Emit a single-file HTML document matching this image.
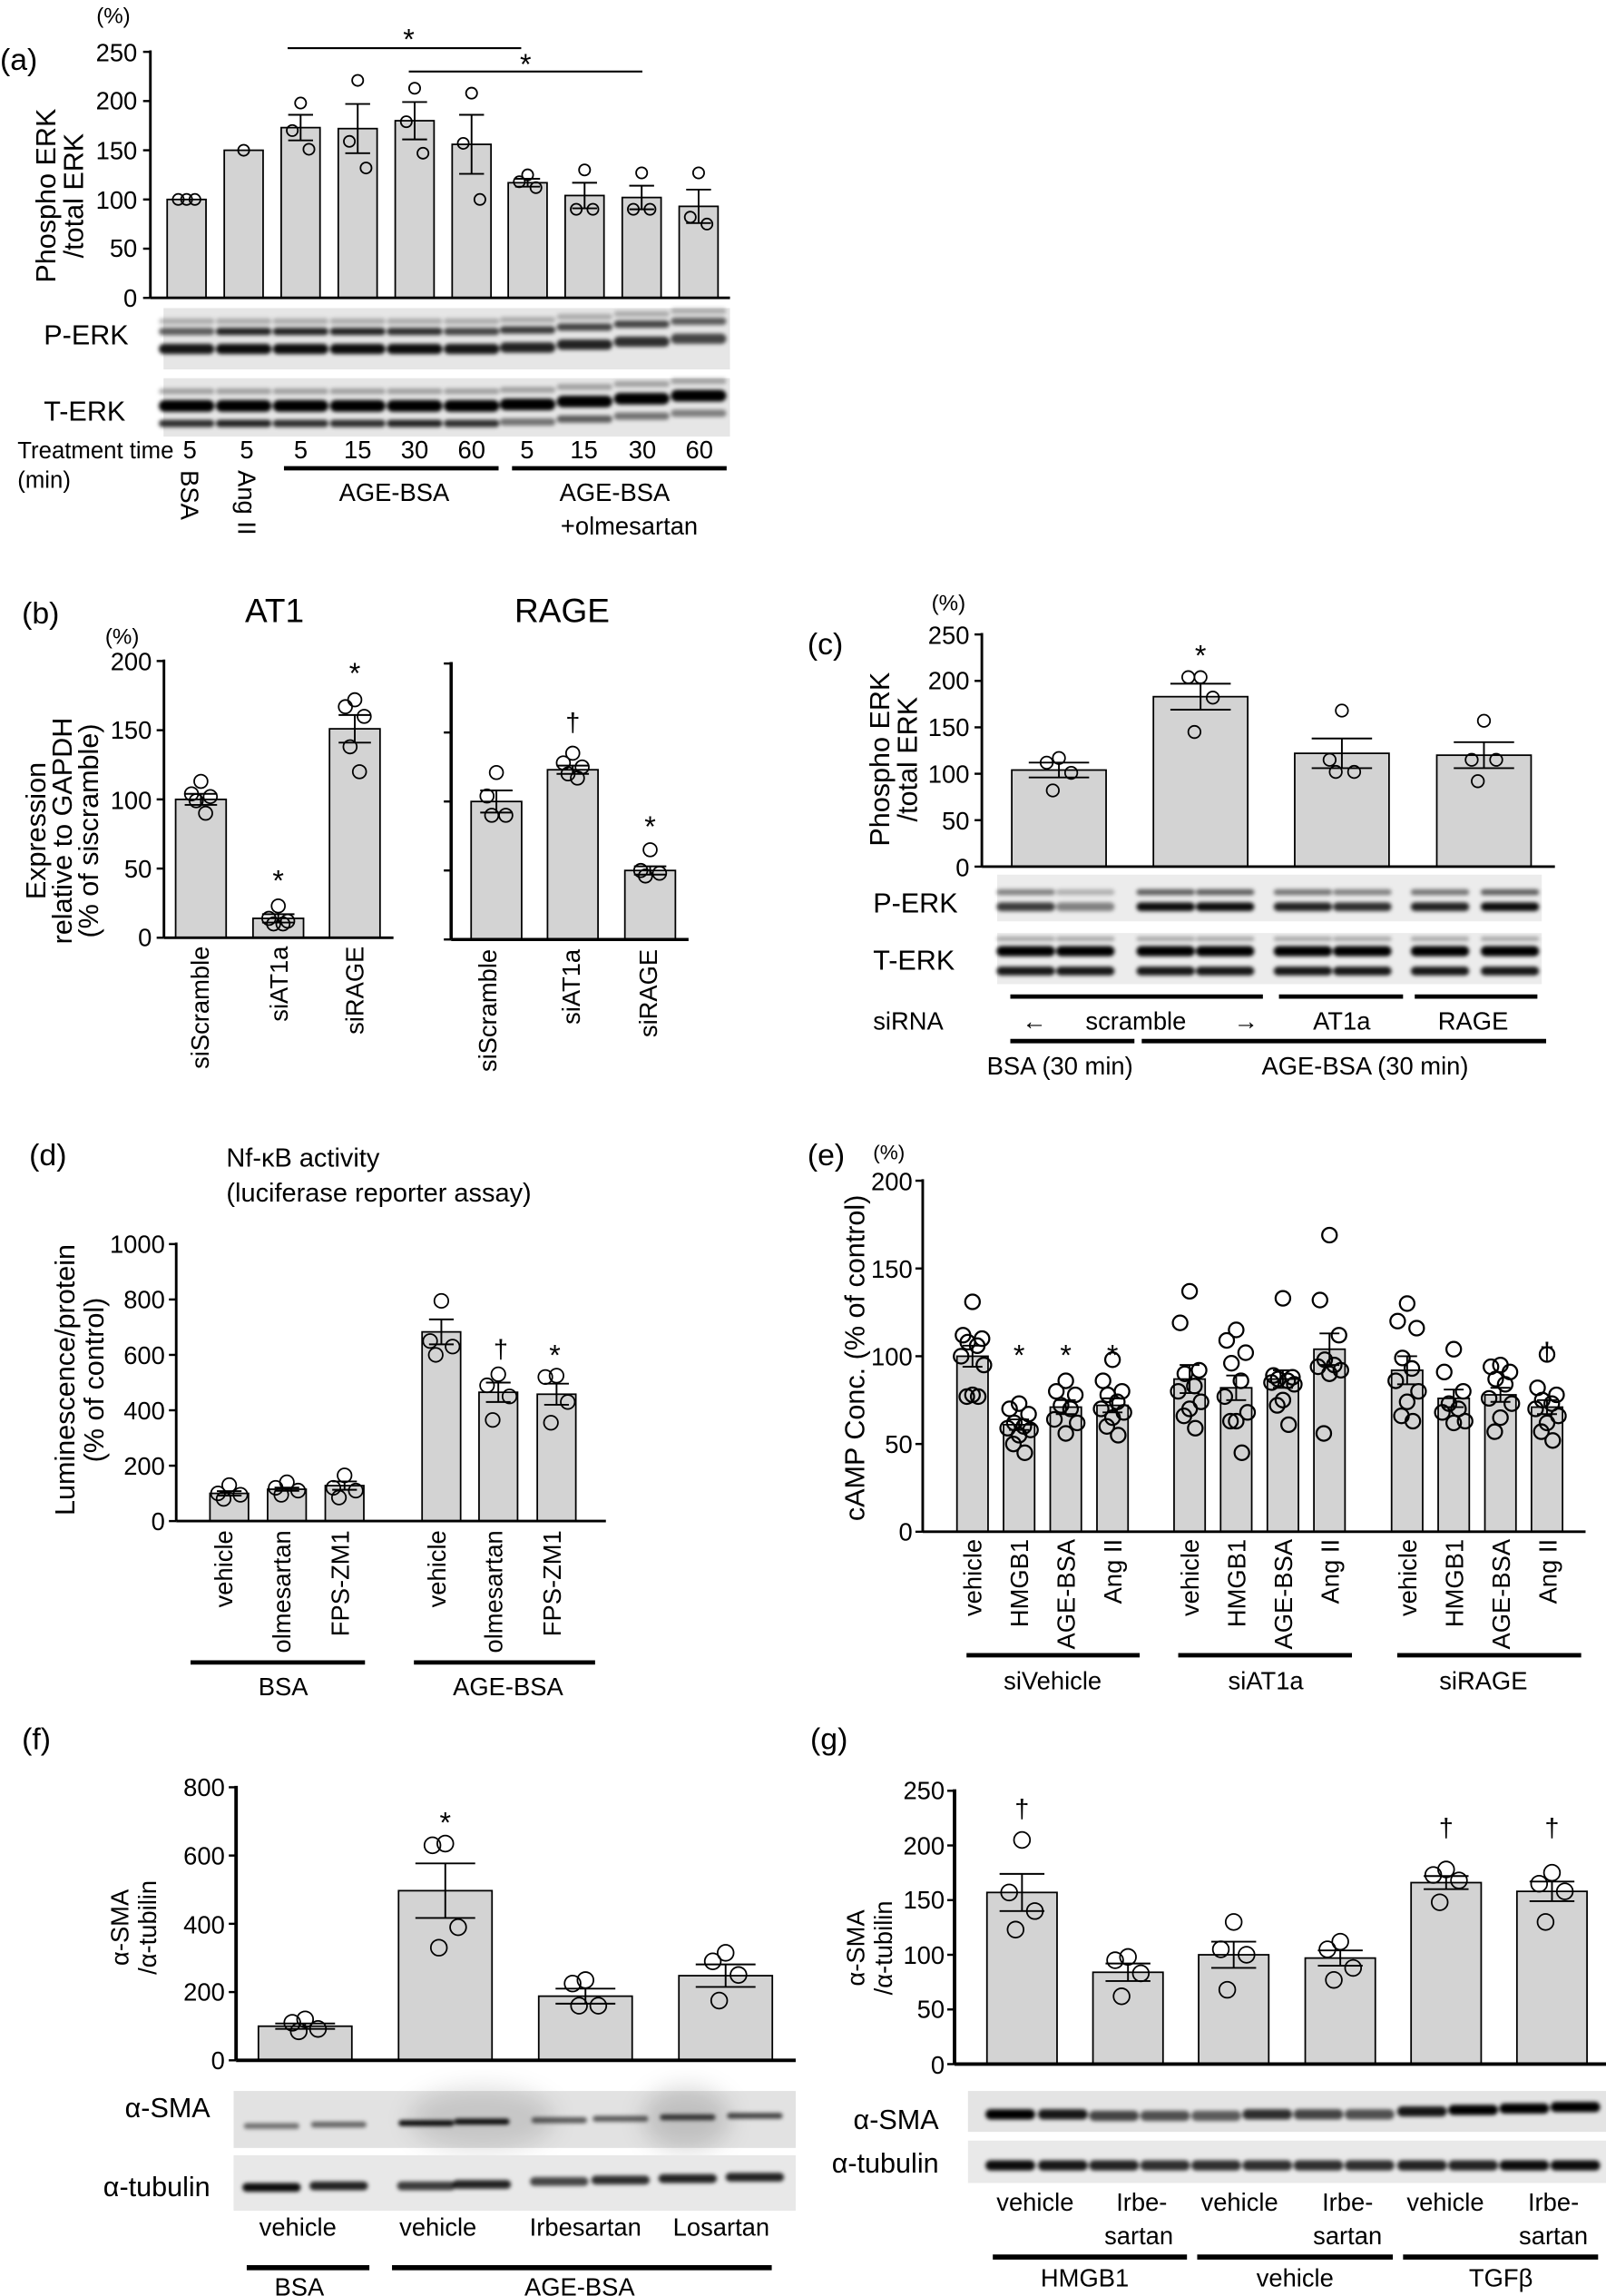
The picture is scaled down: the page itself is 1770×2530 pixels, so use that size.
<!DOCTYPE html>
<html><head><meta charset="utf-8">
<style>
html,body{margin:0;padding:0;background:#fff}
svg{display:block}
text{font-family:"Liberation Sans",Arial,sans-serif;fill:#000}
.t{font-size:17px}
.tn{font-size:17px}
.lb{font-size:19px}
.pl{font-size:21px}
</style></head><body>
<svg id="s" xmlns="http://www.w3.org/2000/svg" width="1770" height="2530" viewBox="0 0 1100 1572.4" preserveAspectRatio="none">
<defs>
<filter id="bl" x="-20%" y="-80%" width="140%" height="260%"><feGaussianBlur stdDeviation="1.3"/></filter>
<filter id="bl2" x="-50%" y="-50%" width="200%" height="200%"><feGaussianBlur stdDeviation="8"/></filter>
</defs>
<g id="blots"></g>
<g id="plots"></g>

<!-- Panel (a) -->
<text class="pl" x="0" y="48">(a)</text>
<text x="66" y="16" style="font-size:15px">(%)</text>
<g class="t" text-anchor="end">
<text x="94" y="210">0</text><text x="94" y="176">50</text><text x="94" y="143">100</text>
<text x="94" y="109">150</text><text x="94" y="75">200</text><text x="94" y="42">250</text>
</g>
<text class="lb" transform="translate(38,134) rotate(-90)" text-anchor="middle">Phospho ERK</text>
<text class="lb" transform="translate(57,134) rotate(-90)" text-anchor="middle">/total ERK</text>
<text x="280" y="34" text-anchor="middle" style="font-size:20px">*</text>
<text x="360" y="51" text-anchor="middle" style="font-size:20px">*</text>
<text class="lb" x="30" y="236">P-ERK</text>
<text class="lb" x="30" y="288">T-ERK</text>
<text x="12" y="314" style="font-size:16px">Treatment time</text>
<text x="12" y="334" style="font-size:16px">(min)</text>
<g class="t" text-anchor="middle">
<text x="130" y="314">5</text><text x="169" y="314">5</text><text x="206" y="314">5</text><text x="245" y="314">15</text>
<text x="284" y="314">30</text><text x="323" y="314">60</text><text x="361" y="314">5</text><text x="400" y="314">15</text>
<text x="440" y="314">30</text><text x="479" y="314">60</text>
</g>
<text class="t" transform="translate(124,322) rotate(90)">BSA</text>
<text class="t" transform="translate(163,322) rotate(90)">Ang II</text>
<text class="t" x="270" y="343" text-anchor="middle">AGE-BSA</text>
<text class="t" x="421" y="343" text-anchor="middle">AGE-BSA</text>
<text class="t" x="431" y="366" text-anchor="middle">+olmesartan</text>

<!-- Panel (b) -->
<text class="pl" x="15" y="427">(b)</text>
<text x="188" y="426" text-anchor="middle" style="font-size:23px">AT1</text>
<text x="385" y="426" text-anchor="middle" style="font-size:23px">RAGE</text>
<text x="72" y="441" style="font-size:15px">(%)</text>
<g class="t" text-anchor="end">
<text x="104" y="648">0</text><text x="104" y="601">50</text><text x="104" y="554">100</text>
<text x="104" y="506">150</text><text x="104" y="459">200</text>
</g>
<text class="lb" transform="translate(31,569) rotate(-90)" text-anchor="middle">Expression</text>
<text class="lb" transform="translate(49,569) rotate(-90)" text-anchor="middle">relative to GAPDH</text>
<text class="lb" transform="translate(67,569) rotate(-90)" text-anchor="middle">(% of siscramble)</text>
<g class="t" text-anchor="end">
<text transform="translate(143,648) rotate(-90)">siScramble</text>
<text transform="translate(197,648) rotate(-90)">siAT1a</text>
<text transform="translate(249,648) rotate(-90)">siRAGE</text>
<text transform="translate(340,650) rotate(-90)">siScramble</text>
<text transform="translate(397,650) rotate(-90)">siAT1a</text>
<text transform="translate(450,650) rotate(-90)">siRAGE</text>
</g>
<text x="190.6" y="610" text-anchor="middle" style="font-size:20px">*</text>
<text x="243" y="468" text-anchor="middle" style="font-size:20px">*</text>
<text x="392.3" y="501" text-anchor="middle" style="font-size:18px">†</text>
<text x="445.3" y="573" text-anchor="middle" style="font-size:20px">*</text>

<!-- Panel (c) -->
<text class="pl" x="553" y="448">(c)</text>
<text x="638" y="418" style="font-size:15px">(%)</text>
<g class="t" text-anchor="end">
<text x="664" y="600">0</text><text x="664" y="568">50</text><text x="664" y="536">100</text>
<text x="664" y="504">150</text><text x="664" y="472">200</text><text x="664" y="441">250</text>
</g>
<text class="lb" transform="translate(609,520) rotate(-90)" text-anchor="middle">Phospho ERK</text>
<text class="lb" transform="translate(628,520) rotate(-90)" text-anchor="middle">/total ERK</text>
<text x="822.3" y="456" text-anchor="middle" style="font-size:20px">*</text>
<text class="lb" x="598" y="625">P-ERK</text>
<text class="lb" x="598" y="664">T-ERK</text>
<text class="t" x="598" y="705">siRNA</text>
<text class="t" x="700" y="705">←</text>
<text class="t" x="778" y="705" text-anchor="middle">scramble</text>
<text class="t" x="845" y="705">→</text>
<text class="t" x="919" y="705" text-anchor="middle">AT1a</text>
<text class="t" x="1009" y="705" text-anchor="middle">RAGE</text>
<text class="t" x="726" y="736" text-anchor="middle">BSA (30 min)</text>
<text class="t" x="935" y="736" text-anchor="middle">AGE-BSA (30 min)</text>

<!-- Panel (d) -->
<text class="pl" x="20" y="798">(d)</text>
<text x="155" y="799" style="font-size:18px">Nf-κB activity</text>
<text x="155" y="823" style="font-size:18px">(luciferase reporter assay)</text>
<g class="t" text-anchor="end">
<text x="113" y="1048">0</text><text x="113" y="1010">200</text><text x="113" y="972">400</text>
<text x="113" y="934">600</text><text x="113" y="896">800</text><text x="113" y="858">1000</text>
</g>
<text class="lb" transform="translate(51,945) rotate(-90)" text-anchor="middle">Luminescence/protein</text>
<text class="lb" transform="translate(71,945) rotate(-90)" text-anchor="middle">(% of control)</text>
<g class="t" text-anchor="end">
<text transform="translate(159,1048) rotate(-90)">vehicle</text>
<text transform="translate(199,1048) rotate(-90)">olmesartan</text>
<text transform="translate(239,1048) rotate(-90)">FPS-ZM1</text>
<text transform="translate(305,1048) rotate(-90)">vehicle</text>
<text transform="translate(344,1048) rotate(-90)">olmesartan</text>
<text transform="translate(384,1048) rotate(-90)">FPS-ZM1</text>
</g>
<text x="343" y="930" text-anchor="middle" style="font-size:18px">†</text>
<text x="380" y="935" text-anchor="middle" style="font-size:20px">*</text>
<text class="t" x="194" y="1161" text-anchor="middle">BSA</text>
<text class="t" x="348" y="1161" text-anchor="middle">AGE-BSA</text>

<!-- Panel (e) -->
<text class="pl" x="553" y="798">(e)</text>
<text x="598" y="794" style="font-size:14px">(%)</text>
<g class="t" text-anchor="end">
<text x="625" y="1055">0</text><text x="625" y="995">50</text><text x="625" y="935">100</text>
<text x="625" y="875">150</text><text x="625" y="815">200</text>
</g>
<text class="lb" transform="translate(592,930) rotate(-90)" text-anchor="middle">cAMP Conc. (% of control)</text>
<g class="t" text-anchor="end">
<text transform="translate(672,1054) rotate(-90)">vehicle</text>
<text transform="translate(704,1054) rotate(-90)">HMGB1</text>
<text transform="translate(736,1054) rotate(-90)">AGE-BSA</text>
<text transform="translate(768,1054) rotate(-90)">Ang II</text>
<text transform="translate(821,1054) rotate(-90)">vehicle</text>
<text transform="translate(853,1054) rotate(-90)">HMGB1</text>
<text transform="translate(885,1054) rotate(-90)">AGE-BSA</text>
<text transform="translate(917,1054) rotate(-90)">Ang II</text>
<text transform="translate(970,1054) rotate(-90)">vehicle</text>
<text transform="translate(1002,1054) rotate(-90)">HMGB1</text>
<text transform="translate(1034,1054) rotate(-90)">AGE-BSA</text>
<text transform="translate(1066,1054) rotate(-90)">Ang II</text>
</g>
<text x="698" y="935" text-anchor="middle" style="font-size:20px">*</text>
<text x="730" y="935" text-anchor="middle" style="font-size:20px">*</text>
<text x="762" y="935" text-anchor="middle" style="font-size:20px">*</text>
<text x="1059.6" y="932" text-anchor="middle" style="font-size:18px">†</text>
<text class="t" x="721" y="1157" text-anchor="middle">siVehicle</text>
<text class="t" x="867" y="1157" text-anchor="middle">siAT1a</text>
<text class="t" x="1016" y="1157" text-anchor="middle">siRAGE</text>

<!-- Panel (f) -->
<text class="pl" x="15" y="1198">(f)</text>
<g class="t" text-anchor="end">
<text x="154" y="1417">0</text><text x="154" y="1370">200</text><text x="154" y="1324">400</text>
<text x="154" y="1277">600</text><text x="154" y="1230">800</text>
</g>
<text class="t" transform="translate(88,1320) rotate(-90)" text-anchor="middle">α-SMA</text>
<text class="t" transform="translate(107,1320) rotate(-90)" text-anchor="middle">/α-tubilin</text>
<text x="305" y="1255" text-anchor="middle" style="font-size:20px">*</text>
<text class="lb" x="144" y="1450" text-anchor="end">α-SMA</text>
<text class="lb" x="144" y="1504" text-anchor="end">α-tubulin</text>
<g class="t" text-anchor="middle">
<text x="204" y="1531">vehicle</text><text x="300" y="1531">vehicle</text>
<text x="401" y="1531">Irbesartan</text><text x="494" y="1531">Losartan</text>
<text x="205" y="1572">BSA</text><text x="397" y="1572">AGE-BSA</text>
</g>

<!-- Panel (g) -->
<text class="pl" x="555" y="1198">(g)</text>
<g class="t" text-anchor="end">
<text x="647" y="1420">0</text><text x="647" y="1382">50</text><text x="647" y="1345">100</text>
<text x="647" y="1307">150</text><text x="647" y="1270">200</text><text x="647" y="1232">250</text>
</g>
<text class="t" transform="translate(592,1334) rotate(-90)" text-anchor="middle">α-SMA</text>
<text class="t" transform="translate(611,1334) rotate(-90)" text-anchor="middle">/α-tubilin</text>
<text x="700" y="1245" text-anchor="middle" style="font-size:18px">†</text>
<text x="990.5" y="1258" text-anchor="middle" style="font-size:18px">†</text>
<text x="1063" y="1258" text-anchor="middle" style="font-size:18px">†</text>
<text class="lb" x="643" y="1458" text-anchor="end">α-SMA</text>
<text class="lb" x="643" y="1488" text-anchor="end">α-tubulin</text>
<g class="t" text-anchor="middle">
<text x="709" y="1514">vehicle</text><text x="782" y="1514">Irbe-</text><text x="780" y="1537">sartan</text>
<text x="849" y="1514">vehicle</text><text x="923" y="1514">Irbe-</text><text x="923" y="1537">sartan</text>
<text x="990" y="1514">vehicle</text><text x="1064" y="1514">Irbe-</text><text x="1064" y="1537">sartan</text>
<text x="743" y="1566">HMGB1</text><text x="887" y="1566">vehicle</text><text x="1028" y="1566">TGFβ</text>
</g>
</svg>
<script>
const NS='http://www.w3.org/2000/svg';
const P=document.getElementById('plots'), B=document.getElementById('blots');
function el(t,a,p){const e=document.createElementNS(NS,t);for(const k in a)e.setAttribute(k,a[k]);(p||P).appendChild(e);return e;}
function line(x1,y1,x2,y2,w,p){el('line',{x1,y1,x2,y2,stroke:'#000','stroke-width':w||1.2},p);}
const offs=[0,-1,1,-0.5,0.5,-1.2,1.2,0,-0.6,0.6,0.2];
function chart(o){
  const Y=v=>o.y0-(o.y0-o.yT)*v/o.vT;
  o.bars.forEach(b=>{
    const [c,v,sem,pts]=b;
    el('rect',{x:c-o.w/2,y:Y(v),width:o.w,height:o.y0-Y(v),fill:'#d3d3d3',stroke:'#000','stroke-width':1.1});
    if(sem){const cw=o.w*0.32;line(c,Y(v+sem),c,Y(v-sem),1.2);line(c-cw,Y(v+sem),c+cw,Y(v+sem),1.2);line(c-cw,Y(v-sem),c+cw,Y(v-sem),1.2);}
    pts.forEach((p,i)=>{el('circle',{cx:c+offs[i%offs.length]*o.r*(o.sp||1.5),cy:Y(p),r:o.r,fill:'none',stroke:'#000','stroke-width':o.sw||1.1});});
  });
  line(o.ax,o.y0,o.xEnd,o.y0,o.aw||1.8);
  line(o.ax,o.yT-1,o.ax,o.y0,o.aw||1.8);
  for(let v=0;v<=o.vT+0.01;v+=o.step){line(o.ax-5,Y(v),o.ax,Y(v),1.5);}
}
chart({ax:103,y0:204,yT:35.5,vT:250,step:50,xEnd:500,w:26.6,r:3.8,bars:[
[127.8,100,0,[100,100,100]],[166.9,150,0,[150]],[205.9,173,13,[198,170,151]],[245,172,25,[221,159,132]],
[284,180,19,[213,179,147]],[323,156,30,[208,157,100]],[361.4,117,4,[125,118,112]],[400.4,104,13,[130,90,90]],
[439.5,102,12,[127,90,90]],[478.5,93,17,[127,82,75]]]});
line(197,33,357,33,1.3);line(280,49,440,49,1.3);
line(194.5,320.7,341.5,320.7,3);line(350.7,320.7,497.7,320.7,3);
chart({ax:112.3,y0:642.2,yT:452.7,vT:200,step:50,xEnd:269.5,w:34.6,r:4.6,sp:1.4,bars:[
[137.6,100,4,[113,104,102,99,90]],[190.6,14,3,[23,14,12,10,10]],[243,151,10,[172,167,160,138,120]]]});
chart({ax:309,y0:643.4,yT:454.4,vT:200,step:50,xEnd:471.6,w:34.6,r:4.6,sp:1.4,aw:2.2,bars:[
[340,100,8,[121,104,90,90]],[392.3,123,3,[135,128,125,120,117]],[445.3,50,3,[65,50,48,46]]]});
chart({ax:672.5,y0:593.5,yT:434.5,vT:250,step:50,xEnd:1065,w:64.6,r:4.2,sp:2,bars:[
[725.3,104,8,[117,112,101,82]],[822.3,183,14,[204,204,182,145]],[919.1,122,16,[168,115,102,102]],[1016.4,120,14,[157,115,115,92]]]});
line(692,682.5,865,682.5,3);line(876,682.5,961,682.5,3);line(969,682.5,1053,682.5,3);
line(692,713,777,713,3);line(782,713,1059,713,3);
chart({ax:120.7,y0:1041.7,yT:852,vT:1000,step:200,xEnd:415,w:26.4,r:4.8,sp:1.6,bars:[
[157,100,8,[130,100,95,80]],[196.5,115,6,[140,120,110,95]],[236,128,15,[165,120,110,85]],
[302.3,683,45,[795,650,630,600]],[341.3,465,35,[530,490,450,365]],[381.2,458,38,[525,520,430,355]]]});
line(130.5,1138.5,250,1138.5,3);line(283.5,1138.5,407.6,1138.5,3);
chart({ax:632,y0:1049,yT:808.6,vT:200,step:50,xEnd:1086,w:21.3,r:5,sp:1.3,sw:1.4,bars:[
[666.1,100,6,[131,112,110,108,106,100,95,78,77,77]],[698,61,3,[73,70,67,62,60,59,58,55,50,45]],
[730,71,4,[86,80,78,72,70,64,62,56]],[762,72,4,[98,86,80,78,74,70,68,65,60,55]],
[814.8,87,8,[137,119,92,90,83,80,74,70,66,59]],[846.7,82,7,[115,109,102,96,86,77,68,63,63,45]],
[878.7,87,5,[133,89,88,87,86,85,84,75,72,61]],[910.6,104,9,[169,132,112,98,95,94,92,90,56]],
[963.8,92,8,[130,120,116,99,93,86,80,74,66,63]],[995.7,76,5,[104,91,80,73,70,68,63,62]],
[1027.7,78,4,[95,94,91,87,84,76,73,65,57]],[1059.6,71,4,[101,82,78,75,73,70,66,62,57,52]]]});
line(662,1133.6,780.6,1133.6,3);line(807,1133.6,926,1133.6,3);line(957,1133.6,1083,1133.6,3);
chart({ax:161.7,y0:1411,yT:1224,vT:800,step:200,xEnd:545,w:64,r:5.5,sp:1.6,aw:2.4,bars:[
[209,100,8,[120,110,92,85]],[305,497,80,[635,630,390,330]],[401,188,22,[235,225,160,160]],[497,248,33,[315,290,250,175]]]});
line(169,1553,253,1553,3.5);line(268.5,1553,528.6,1553,3.5);
chart({ax:653.8,y0:1413.6,yT:1226.4,vT:250,step:50,xEnd:1100,w:48,r:5.5,sp:1.6,aw:2.4,bars:[
[700,157,17,[205,157,140,123]],[772.6,84,8,[98,95,83,62]],[845,100,12,[130,105,100,68]],
[918,97,7,[112,105,88,77]],[990.5,166,6,[178,173,168,148]],[1063,158,9,[175,165,158,130]]]});
line(680,1545.7,813,1545.7,3.5);line(820,1545.7,954,1545.7,3.5);line(961,1545.7,1094.6,1545.7,3.5);

function blot(x,y,w,h,bg,lanes,bands,lw){
  el('rect',{x,y,width:w,height:h,fill:bg},B);
  const g=el('g',{filter:'url(#bl)'},B);
  bands.forEach(bd=>{
    lanes.forEach((c,i)=>{
      const op=Array.isArray(bd.o)?bd.o[i]:bd.o; const dy=bd.d?bd.d[i]:0;
      if(op<=0)return;
      el('rect',{x:c-lw/2,y:bd.y+dy-bd.h/2,width:lw,height:bd.h,rx:bd.h/2,fill:'#000','fill-opacity':op},g);
    });
  });
}
const la=[127.8,166.9,205.9,245,284,323,361.4,400.4,439.5,478.5];
const sh=[0,0,0,0,0,0,-1,-3,-5,-7];
blot(112,211,388,42,'#e6e6e6',la,[
 {y:220,h:4,o:0.25,d:sh},
 {y:227,h:5,o:[0.6,0.85,0.85,0.85,0.8,0.7,0.75,0.7,0.7,0.6],d:sh},
 {y:239,h:7,o:[0.9,0.95,0.95,0.95,0.95,0.9,0.85,0.85,0.8,0.7],d:sh}],38);
blot(112,259,388,40,'#e6e6e6',la,[
 {y:268,h:4,o:0.3,d:sh},
 {y:278,h:8,o:1,d:sh},
 {y:290,h:5,o:[0.8,0.85,0.8,0.8,0.85,0.8,0.5,0.6,0.5,0.45],d:sh}],38);
const lc=[702.6,743.4,798.4,839.1,892.4,933.1,986.3,1034.2];
blot(683,599,373,32,'#ececec',lc,[
 {y:611,h:4,o:[0.45,0.25,0.6,0.6,0.5,0.45,0.5,0.6]},
 {y:621,h:6,o:[0.75,0.45,0.95,0.95,0.85,0.8,0.85,0.95]}],40);
blot(683,639,373,35,'#ececec',lc,[
 {y:643,h:3,o:0.3},
 {y:651.4,h:7,o:1},
 {y:665,h:6,o:0.9}],40);
const lf=[186,232,292,330,383,425,471,517];
el('rect',{x:160,y:1432,width:385,height:39,fill:'#e2e2e2'},B);
el('ellipse',{cx:330,cy:1451,rx:50,ry:22,fill:'#000','fill-opacity':0.12,filter:'url(#bl2)'},B);
el('ellipse',{cx:470,cy:1451,rx:30,ry:22,fill:'#000','fill-opacity':0.15,filter:'url(#bl2)'},B);
blot(160,1432,0,0,'none',lf,[{y:1454,h:4,o:[0.5,0.55,0.95,0.95,0.6,0.6,0.75,0.7],d:[2,1,0,-1,-2,-3,-4,-5]}],38);
blot(160,1476,385,38,'#e8e8e8',lf,[{y:1497,h:6,o:[0.95,0.85,0.75,0.85,0.7,0.8,0.85,0.85],d:[1,0,0,-1,-3,-4,-5,-6]}],40);
const lg=[692,728,763,798,833,868,903,938,974,1009,1044,1079];
blot(663,1432,437,28,'#e4e4e4',lg,[{y:1447,h:7,o:[1,0.9,0.7,0.65,0.6,0.8,0.7,0.65,0.9,1,1,1],d:[1,1,2,2,2,1,1,1,-1,-2,-3,-4]}],34);
blot(663,1466,437,29,'#e9e9e9',lg,[{y:1483,h:7,o:[0.95,0.9,0.85,0.8,0.8,0.8,0.8,0.8,0.85,0.85,0.95,0.95]}],34);
</script>
</body></html>
